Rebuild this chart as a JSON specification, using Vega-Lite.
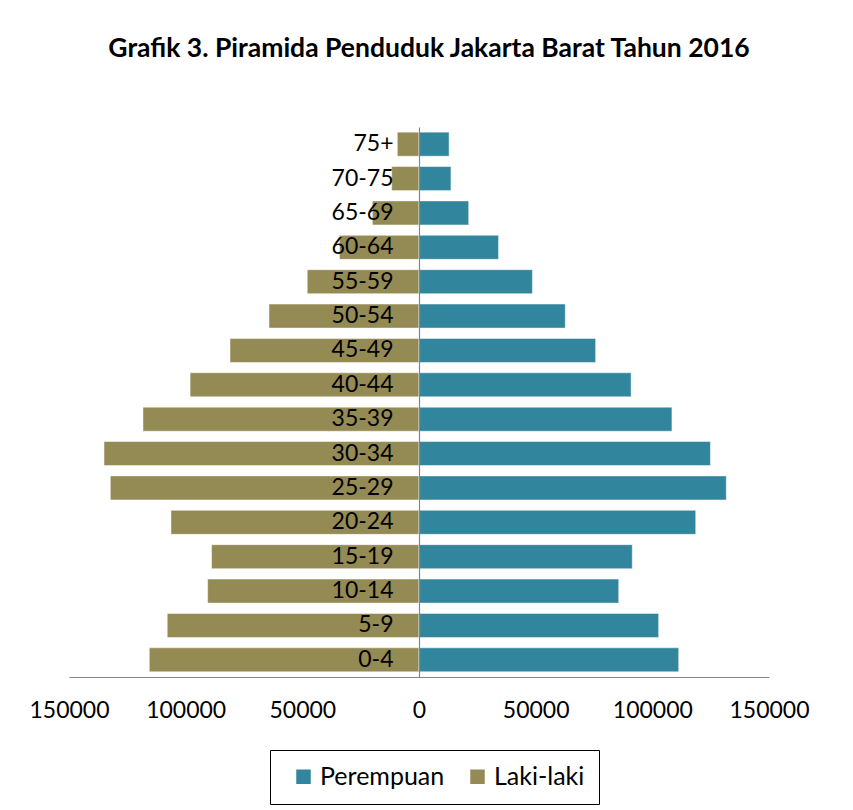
{
  "$schema": "https://vega.github.io/schema/vega-lite/v6.json",
  "width": 700,
  "height": 550,
  "autosize": {"type": "none"},
  "padding": {"left": 69, "top": 127, "right": 84, "bottom": 133},
  "background": "white",
  "title": {
    "text": "Grafik 3. Piramida Penduduk Jakarta Barat Tahun 2016",
    "font": "Lato",
    "fontSize": 26.5,
    "fontWeight": "bold",
    "color": "#000000",
    "anchor": "middle",
    "offset": 65,
    "dx": 10
  },
  "data": {
    "values": [
      {"age": "75+", "sex": "Laki-laki", "value": -9300},
      {"age": "70-75", "sex": "Laki-laki", "value": -11700},
      {"age": "65-69", "sex": "Laki-laki", "value": -20000},
      {"age": "60-64", "sex": "Laki-laki", "value": -34100},
      {"age": "55-59", "sex": "Laki-laki", "value": -47900},
      {"age": "50-54", "sex": "Laki-laki", "value": -64300},
      {"age": "45-49", "sex": "Laki-laki", "value": -81000},
      {"age": "40-44", "sex": "Laki-laki", "value": -98100},
      {"age": "35-39", "sex": "Laki-laki", "value": -118300},
      {"age": "30-34", "sex": "Laki-laki", "value": -135000},
      {"age": "25-29", "sex": "Laki-laki", "value": -132300},
      {"age": "20-24", "sex": "Laki-laki", "value": -106300},
      {"age": "15-19", "sex": "Laki-laki", "value": -88900},
      {"age": "10-14", "sex": "Laki-laki", "value": -90600},
      {"age": "5-9", "sex": "Laki-laki", "value": -107900},
      {"age": "0-4", "sex": "Laki-laki", "value": -115600},
      {"age": "75+", "sex": "Perempuan", "value": 12900},
      {"age": "70-75", "sex": "Perempuan", "value": 13700},
      {"age": "65-69", "sex": "Perempuan", "value": 21300},
      {"age": "60-64", "sex": "Perempuan", "value": 34100},
      {"age": "55-59", "sex": "Perempuan", "value": 48600},
      {"age": "50-54", "sex": "Perempuan", "value": 62700},
      {"age": "45-49", "sex": "Perempuan", "value": 75700},
      {"age": "40-44", "sex": "Perempuan", "value": 90900},
      {"age": "35-39", "sex": "Perempuan", "value": 108400},
      {"age": "30-34", "sex": "Perempuan", "value": 124900},
      {"age": "25-29", "sex": "Perempuan", "value": 131700},
      {"age": "20-24", "sex": "Perempuan", "value": 118600},
      {"age": "15-19", "sex": "Perempuan", "value": 91400},
      {"age": "10-14", "sex": "Perempuan", "value": 85600},
      {"age": "5-9", "sex": "Perempuan", "value": 102700},
      {"age": "0-4", "sex": "Perempuan", "value": 111300}
    ]
  },
  "mark": {"type": "bar", "stroke": "white", "strokeWidth": 0.5},
  "encoding": {
    "y": {
      "field": "age",
      "type": "nominal",
      "sort": ["75+", "70-75", "65-69", "60-64", "55-59", "50-54", "45-49", "40-44", "35-39", "30-34", "25-29", "20-24", "15-19", "10-14", "5-9", "0-4"],
      "scale": {"paddingInner": 0.3, "paddingOuter": 0.15},
      "axis": {
        "title": null,
        "orient": "left",
        "offset": -350,
        "zindex": 1,
        "ticks": false,
        "tickSize": 0,
        "labelPadding": 26,
        "labelFont": "Lato",
        "labelFontSize": 23,
        "labelColor": "#000000",
        "domainColor": "#868686",
        "domainWidth": 1.2,
        "grid": false
      }
    },
    "x": {
      "field": "value",
      "type": "quantitative",
      "scale": {"domain": [-150000, 150000], "nice": false},
      "axis": {
        "title": null,
        "values": [-150000, -100000, -50000, 0, 50000, 100000, 150000],
        "labelExpr": "format(abs(datum.value), 'd')",
        "ticks": false,
        "tickSize": 0,
        "labelPadding": 22,
        "labelFont": "Lato",
        "labelFontSize": 23,
        "labelColor": "#000000",
        "labelFlush": false,
        "labelOverlap": false,
        "domainColor": "#868686",
        "domainWidth": 1.2,
        "grid": false
      }
    },
    "color": {
      "field": "sex",
      "type": "nominal",
      "scale": {"domain": ["Perempuan", "Laki-laki"], "range": ["#31859C", "#948A54"]},
      "legend": {
        "title": null,
        "orient": "none",
        "direction": "horizontal",
        "legendX": 201,
        "legendY": 623,
        "symbolType": "square",
        "symbolSize": 210,
        "symbolStrokeWidth": 0,
        "symbolOffset": 7,
        "labelFont": "Lato",
        "labelFontSize": 25,
        "labelColor": "#000000",
        "columnPadding": 13,
        "labelOffset": 4,
        "padding": 14,
        "strokeColor": "#000000"
      }
    }
  },
  "config": {"view": {"stroke": null}}
}
